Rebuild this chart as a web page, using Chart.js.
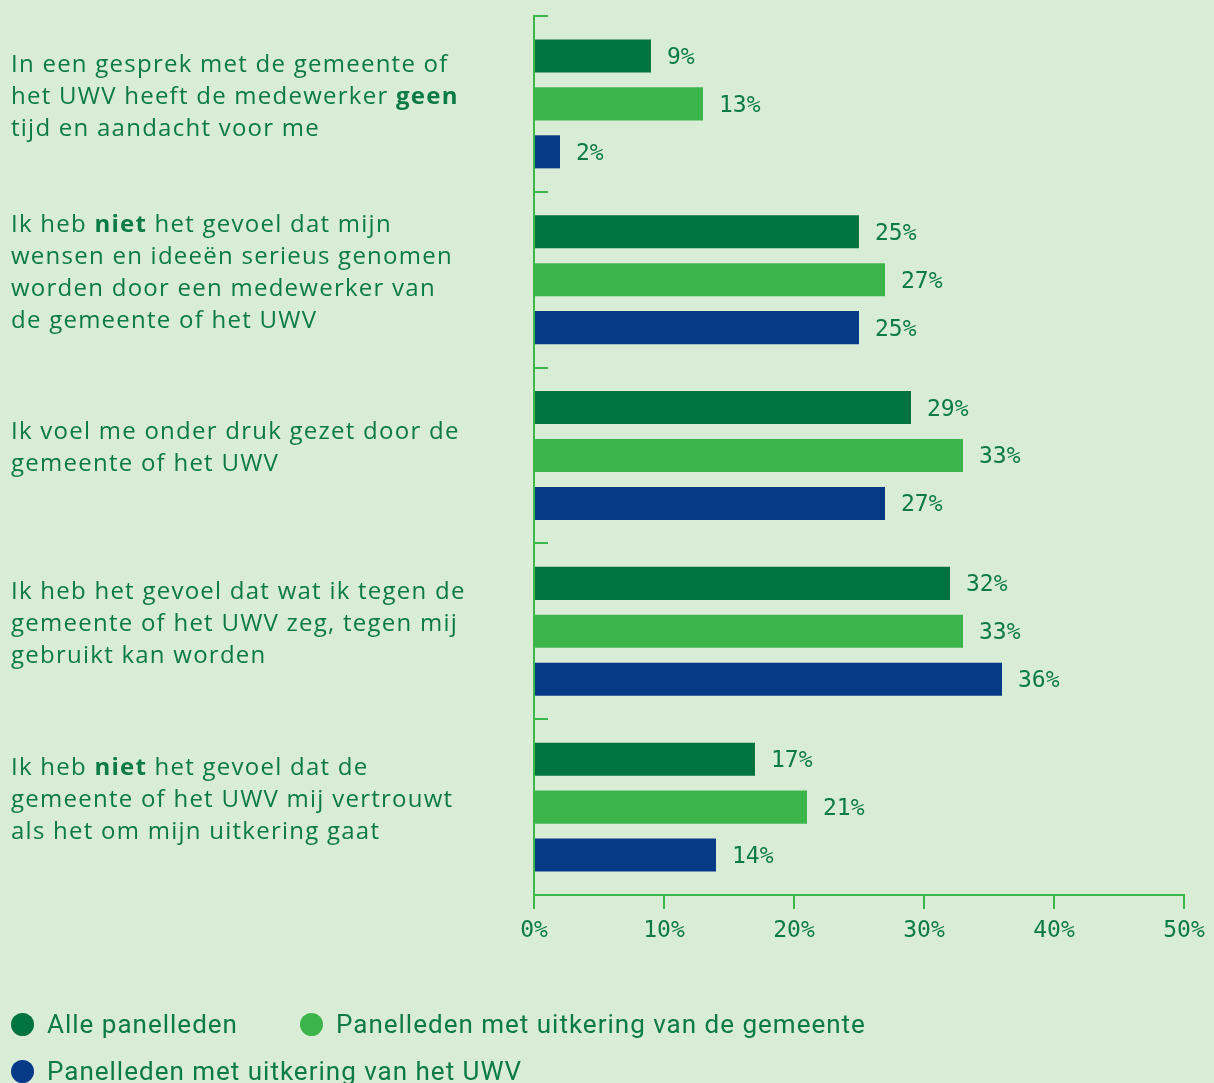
<!DOCTYPE html>
<html>
<head>
<meta charset="utf-8">
<script src="https://cdn.jsdelivr.net/npm/chart.js@4"></script>
<style>
  body { margin: 0; background: #d9ecd6; }
  #wrap { position: relative; width: 1214px; height: 1083px; overflow: hidden; }
  #legend { position: absolute; left: 11px; top: 1009px; width: 1200px; font-family: Roboto, sans-serif; font-size: 26px; letter-spacing: 1px; color: #0b7a45; }
  .item { position: absolute; display: flex; align-items: center; white-space: nowrap; }
  .dot { width: 23px; height: 23px; border-radius: 50%; margin-right: 13px; }
</style>
</head>
<body>
<div id="wrap">
  <canvas id="chart" width="1214" height="1083"></canvas>
  <div id="legend"></div>
</div>
<script>
// statements, **word** = bold
const statements = [
  ['In een gesprek met de gemeente of', 'het UWV heeft de medewerker **geen**', 'tijd en aandacht voor me'],
  ['Ik heb **niet** het gevoel dat mijn', 'wensen en ideeën serieus genomen', 'worden door een medewerker van', 'de gemeente of het UWV'],
  ['Ik voel me onder druk gezet door de', 'gemeente of het UWV'],
  ['Ik heb het gevoel dat wat ik tegen de', 'gemeente of het UWV zeg, tegen mij', 'gebruikt kan worden'],
  ['Ik heb **niet** het gevoel dat de', 'gemeente of het UWV mij vertrouwt', 'als het om mijn uitkering gaat']
];
const seriesNames = ['Alle panelleden', 'Panelleden met uitkering van de gemeente', 'Panelleden met uitkering van het UWV'];
const alle = [9, 25, 29, 32, 17];
const gemeente = [13, 27, 33, 33, 21];
const uwv = [2, 25, 27, 36, 14];
const xTicks = [0, 10, 20, 30, 40, 50];

const colors = ['#00733f', '#3bb54a', '#063a87'];
const textColor = '#0b7a45';
const axisColor = '#3cb84b';
const monoFont = '"DejaVu Sans Mono", monospace';
const labelFont = '"Open Sans", sans-serif';

// inward ticks on the y axis + value labels + left statements
const extras = {
  id: 'extras',
  afterDraw(chart) {
    const ctx = chart.ctx;
    const y = chart.scales.y;
    const left = chart.chartArea.left;
    ctx.save();
    ctx.strokeStyle = axisColor;
    ctx.lineWidth = 2;
    for (let i = 0; i <= statements.length; i++) {
      const py = Math.round(y.getPixelForValue(i - 0.5));
      ctx.beginPath();
      ctx.moveTo(left, py);
      ctx.lineTo(left + 14, py);
      ctx.stroke();
    }

    ctx.fillStyle = textColor;
    ctx.font = '23px ' + monoFont;
    ctx.textBaseline = 'middle';
    ctx.textAlign = 'left';
    chart.data.datasets.forEach((ds, di) => {
      chart.getDatasetMeta(di).data.forEach((bar, i) => {
        ctx.fillText(ds.data[i] + '%', bar.x + 16, bar.y + 2);
      });
    });

    const lh = 32;
    ctx.letterSpacing = '1.25px';
    statements.forEach((lines, i) => {
      const cy = y.getPixelForValue(i) - 7;
      let ty = cy - (lines.length - 1) * lh / 2;
      lines.forEach(line => {
        let tx = 11;
        line.split(/(\*\*[^*]+\*\*)/).forEach(part => {
          if (!part) return;
          const bold = part.startsWith('**');
          const txt = bold ? part.slice(2, -2) : part;
          ctx.font = (bold ? 'bold ' : '') + '24px ' + labelFont;
          ctx.fillText(txt, tx, ty);
          tx += ctx.measureText(txt).width;
        });
        ty += lh;
      });
    });
    ctx.restore();
  }
};

new Chart(document.getElementById('chart'), {
  type: 'bar',
  data: {
    labels: statements.map(s => s.join(' ')),
    datasets: [
      { label: seriesNames[0], data: alle, backgroundColor: colors[0] },
      { label: seriesNames[1], data: gemeente, backgroundColor: colors[1] },
      { label: seriesNames[2], data: uwv, backgroundColor: colors[2] }
    ]
  },
  options: {
    indexAxis: 'y',
    responsive: false,
    animation: false,
    layout: { padding: { top: 16, right: 30, left: 0, bottom: 0 } },
    datasets: { bar: { categoryPercentage: 0.818, barPercentage: 0.69 } },
    plugins: { legend: { display: false }, tooltip: { enabled: false } },
    scales: {
      x: {
        min: 0,
        max: 50,
        afterFit: s => { s.height = 188; },
        afterBuildTicks: s => { s.ticks = xTicks.map(v => ({ value: v })); },
        border: { color: axisColor, width: 2 },
        grid: { drawOnChartArea: false, drawTicks: true, tickLength: 14, color: axisColor, lineWidth: 2 },
        ticks: { color: textColor, font: { family: monoFont, size: 23 }, padding: 8, callback: v => v + '%' }
      },
      y: {
        afterFit: s => { s.width = 534; },
        border: { color: axisColor, width: 2 },
        grid: { display: false },
        ticks: { display: false }
      }
    }
  },
  plugins: [extras]
});

const legendPos = [[0, 0], [289, 0], [0, 47]];
const legend = document.getElementById('legend');
seriesNames.forEach((name, i) => {
  const el = document.createElement('div');
  el.className = 'item';
  el.style.left = legendPos[i][0] + 'px';
  el.style.top = legendPos[i][1] + 'px';
  el.innerHTML = '<span class="dot" style="background:' + colors[i] + '"></span><span></span>';
  el.lastChild.textContent = name;
  legend.appendChild(el);
});
</script>
</body>
</html>
